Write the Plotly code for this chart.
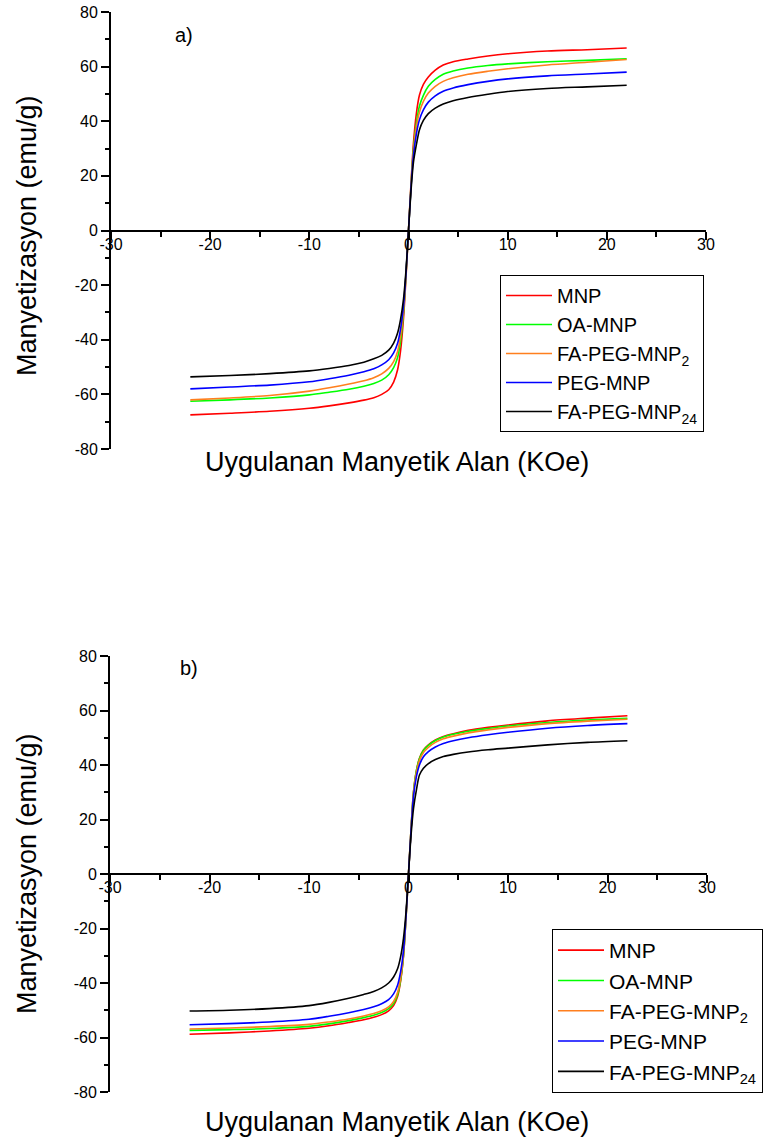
import plotly.graph_objects as go

# Applied field (KOe) sample points
field = [-22, -18, -14, -10, -8, -6, -4.5, -3.5, -2.7, -2, -1.5, -1.1, -0.8, -0.5, -0.25, 0,
         0.25, 0.5, 0.8, 1.1, 1.5, 2, 2.7, 3.5, 4.5, 6, 8, 10, 14, 18, 22]

series_names = ["MNP", "OA-MNP", "FA-PEG-MNP<sub>2</sub>", "PEG-MNP", "FA-PEG-MNP<sub>24</sub>"]
series_colors = ["#FF0000", "#00FF00", "#FF7F1E", "#0000FF", "#000000"]

# Panel a) magnetization (emu/g)
a_mnp = [-67.5, -66.9, -66.2, -65.1, -64.2, -63.1, -62.1, -61.2, -60.0, -58.3, -55.5, -51.0, -44.0, -32.0, -17.0, 0,
         17.0, 32.0, 43.0, 49.5, 53.5, 56.2, 58.7, 60.6, 61.8, 62.8, 63.9, 64.7, 65.7, 66.2, 66.8]
a_oa = [-62.5, -62.0, -61.3, -60.2, -59.2, -58.1, -57.0, -56.0, -54.8, -52.8, -50.2, -46.5, -40.5, -30.0, -16.0, 0,
        16.0, 30.0, 39.5, 45.5, 49.5, 52.8, 55.3, 57.2, 58.4, 59.5, 60.4, 61.0, 61.8, 62.3, 62.9]
a_fapeg2 = [-62.0, -61.3, -60.4, -58.8, -57.6, -56.2, -55.0, -53.9, -52.5, -50.5, -48.0, -44.3, -38.5, -29.0, -16.0, 0,
            16.0, 29.0, 38.0, 43.3, 47.3, 50.3, 52.8, 54.6, 55.9, 57.2, 58.3, 59.2, 60.6, 61.6, 62.6]
a_peg = [-58.0, -57.3, -56.6, -55.4, -54.3, -53.0, -51.7, -50.6, -49.2, -47.3, -44.8, -41.3, -36.0, -27.5, -15.5, 0,
         15.5, 27.5, 35.5, 40.5, 44.2, 47.0, 49.3, 51.0, 52.2, 53.4, 54.6, 55.5, 56.6, 57.3, 58.0]
a_fapeg24 = [-53.6, -53.1, -52.4, -51.4, -50.5, -49.4, -48.2, -47.0, -45.7, -43.8, -41.2, -37.5, -32.5, -25.0, -14.5, 0,
             14.5, 25.0, 31.5, 36.8, 40.3, 42.8, 44.8, 46.3, 47.5, 48.7, 49.9, 50.9, 52.0, 52.6, 53.2]

# Panel b) magnetization (emu/g)
b_mnp = [-58.8, -58.3, -57.6, -56.6, -55.7, -54.5, -53.5, -52.6, -51.6, -50.2, -48.3, -45.0, -39.5, -30.0, -16.0, 0,
         16.0, 30.0, 38.0, 42.5, 45.5, 47.4, 49.2, 50.5, 51.5, 52.7, 53.8, 54.7, 56.2, 57.2, 58.1]
b_oa = [-57.4, -57.1, -56.7, -55.9, -55.0, -53.8, -52.7, -51.8, -50.8, -49.4, -47.5, -44.3, -39.0, -30.0, -16.0, 0,
        16.0, 30.0, 38.0, 42.3, 45.3, 47.2, 49.0, 50.3, 51.3, 52.4, 53.4, 54.3, 55.6, 56.5, 57.1]
b_fapeg2 = [-56.9, -56.5, -56.0, -55.2, -54.3, -53.2, -52.1, -51.2, -50.2, -48.8, -46.8, -43.5, -38.3, -29.5, -16.0, 0,
            16.0, 29.5, 37.3, 41.6, 44.6, 46.5, 48.3, 49.6, 50.6, 51.8, 52.9, 53.8, 55.2, 56.1, 56.8]
b_peg = [-55.3, -54.9, -54.3, -53.3, -52.2, -50.9, -49.7, -48.7, -47.6, -46.1, -44.0, -40.8, -36.0, -28.0, -15.5, 0,
         15.5, 28.5, 35.8, 40.0, 43.0, 44.9, 46.6, 47.9, 48.9, 50.0, 51.1, 52.0, 53.5, 54.5, 55.2]
b_fapeg24 = [-50.3, -50.0, -49.4, -48.3, -47.1, -45.6, -44.2, -43.1, -41.8, -40.0, -37.8, -34.8, -30.5, -23.5, -14.0, 0,
             14.0, 24.0, 31.0, 36.3, 38.8, 40.5, 42.0, 43.1, 43.9, 44.8, 45.6, 46.2, 47.4, 48.3, 48.9]

x_ticks = [-30, -20, -10, 0, 10, 20, 30]
y_ticks = [-80, -60, -40, -20, 0, 20, 40, 60, 80]

panel_a = [a_mnp, a_oa, a_fapeg2, a_peg, a_fapeg24]
panel_b = [b_mnp, b_oa, b_fapeg2, b_peg, b_fapeg24]

W, H = 774, 1146
FONT = "Liberation Sans, Arial, sans-serif"

def px(x):
    return x / W

def py(y):
    return 1 - y / H

fig = go.Figure()
for name, color, ys in zip(series_names, series_colors, panel_a):
    fig.add_trace(go.Scatter(x=field, y=ys, mode="lines", name=name,
                             line=dict(color=color, width=1.6, shape="spline", smoothing=0.8),
                             xaxis="x", yaxis="y", legend="legend"))
for name, color, ys in zip(series_names, series_colors, panel_b):
    fig.add_trace(go.Scatter(x=field, y=ys, mode="lines", name=name,
                             line=dict(color=color, width=1.6, shape="spline", smoothing=0.8),
                             xaxis="x2", yaxis="y2", legend="legend2"))

def xaxis_cfg(domain, pos):
    return dict(domain=domain, range=[-30, 30], anchor="free", position=pos, automargin=False,
                tickmode="array", tickvals=x_ticks, ticktext=[str(v) for v in x_ticks],
                showline=True, linecolor="black", linewidth=2,
                ticks="outside", ticklen=8, tickwidth=1.5, tickcolor="black",
                minor=dict(ticks="outside", dtick=5, ticklen=5, tickwidth=1.5, tickcolor="black"),
                showgrid=False, zeroline=False, ticklabelstandoff=-9, ticklabeloverflow="allow",
                tickfont=dict(family=FONT, size=16, color="black"))

def yaxis_cfg(domain, anchor):
    return dict(domain=domain, range=[-80, 80], anchor=anchor, automargin=False,
                tickmode="array", tickvals=y_ticks, ticktext=[str(v) for v in y_ticks],
                showline=True, linecolor="black", linewidth=2,
                ticks="outside", ticklen=8, tickwidth=1.5, tickcolor="black",
                minor=dict(ticks="outside", dtick=10, ticklen=4, tickwidth=1.5, tickcolor="black"),
                showgrid=False, zeroline=False, ticklabeloverflow="allow",
                tickfont=dict(family=FONT, size=16, color="black"))

fig.update_layout(
    width=W, height=H, autosize=False,
    margin=dict(l=0, r=0, t=0, b=0, autoexpand=False),
    paper_bgcolor="white", plot_bgcolor="rgba(0,0,0,0)",
    xaxis=xaxis_cfg([px(111), px(706)], py(231)),
    yaxis=yaxis_cfg([py(449), py(12)], "x"),
    xaxis2=xaxis_cfg([px(110), px(707)], py(874)),
    yaxis2=yaxis_cfg([py(1092), py(656)], "x2"),
    legend=dict(x=px(500), y=py(275), xanchor="left", yanchor="top", itemwidth=46,
                bgcolor="white", bordercolor="black", borderwidth=1,
                font=dict(family=FONT, size=20, color="black"), tracegroupgap=0),
    legend2=dict(x=px(552), y=py(929), xanchor="left", yanchor="top", itemwidth=46,
                 bgcolor="white", bordercolor="black", borderwidth=1,
                 font=dict(family=FONT, size=21, color="black"), tracegroupgap=0),
)

ann_font = dict(family=FONT, size=27, color="black")
annotations = [
    dict(text="Manyetizasyon (emu/g)", x=px(27), y=py(236), textangle=-90, font=ann_font),
    dict(text="Uygulanan Manyetik Alan (KOe)", x=px(397), y=py(462), font=ann_font),
    dict(text="a)", x=px(184), y=py(35), font=dict(family=FONT, size=20, color="black")),
    dict(text="Manyetizasyon (emu/g)", x=px(27), y=py(874), textangle=-90, font=ann_font),
    dict(text="Uygulanan Manyetik Alan (KOe)", x=px(397), y=py(1122), font=ann_font),
    dict(text="b)", x=px(189), y=py(668), font=dict(family=FONT, size=20, color="black")),
]
for a in annotations:
    a.update(xref="paper", yref="paper", showarrow=False, xanchor="center", yanchor="middle")
fig.update_layout(annotations=annotations)

fig.write_html("out.html", config={"displayModeBar": False},
               post_script="document.body.style.margin='0';")
